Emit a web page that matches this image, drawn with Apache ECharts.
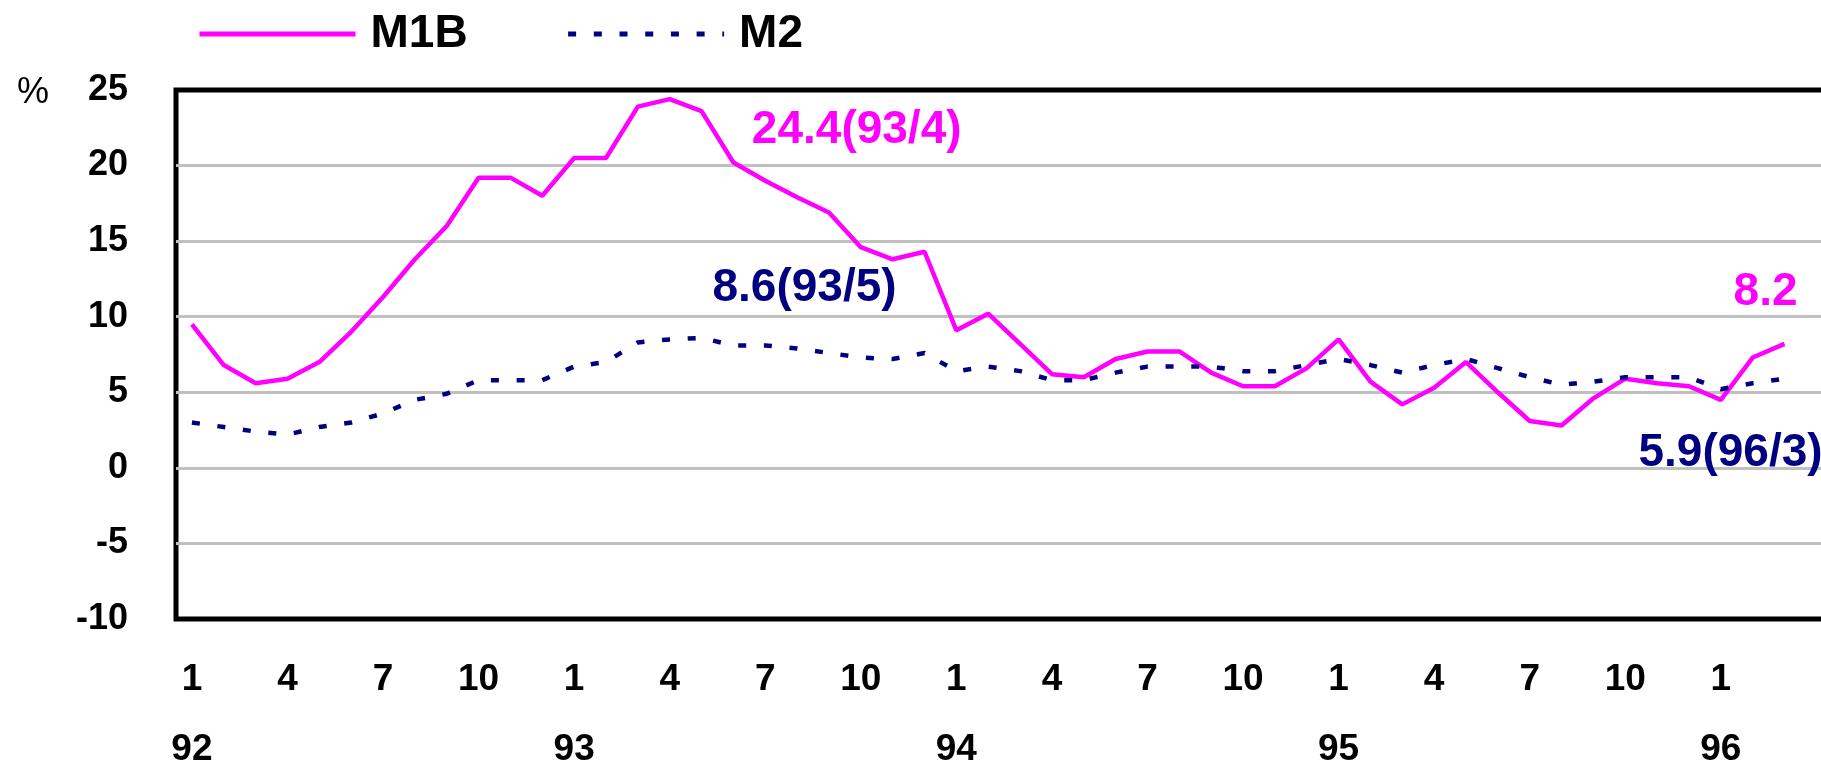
<!DOCTYPE html>
<html><head><meta charset="utf-8">
<script src="https://cdn.jsdelivr.net/npm/echarts@6/dist/echarts.min.js"></script>
<style>html,body{margin:0;padding:0;background:#fff}#c{width:1821px;height:766px}</style>
</head><body><div id="c"></div>
<script>
const months = ['92/1','92/2','92/3','92/4','92/5','92/6','92/7','92/8','92/9','92/10','92/11','92/12',
  '93/1','93/2','93/3','93/4','93/5','93/6','93/7','93/8','93/9','93/10','93/11','93/12',
  '94/1','94/2','94/3','94/4','94/5','94/6','94/7','94/8','94/9','94/10','94/11','94/12',
  '95/1','95/2','95/3','95/4','95/5','95/6','95/7','95/8','95/9','95/10','95/11','95/12',
  '96/1','96/2','96/3'];
const axisExtraMonths = ['96/4','96/5','96/6'];
const m1b = [9.5,6.8,5.6,5.9,7.0,9.0,11.3,13.8,16.0,19.2,19.2,18.0,
  20.5,20.5,23.9,24.4,23.6,20.2,19.0,17.9,16.9,14.6,13.8,14.3,
  9.1,10.2,8.2,6.2,6.0,7.2,7.7,7.7,6.3,5.4,5.4,6.6,
  8.5,5.7,4.2,5.3,7.0,5.0,3.1,2.8,4.6,5.9,5.6,5.4,
  4.5,7.3,8.2];
const m2 = [3.0,2.7,2.4,2.2,2.7,3.0,3.6,4.5,4.9,5.8,5.8,5.8,
  6.7,7.0,8.3,8.5,8.6,8.1,8.1,7.9,7.6,7.3,7.2,7.6,
  6.4,6.7,6.4,5.8,5.8,6.3,6.7,6.7,6.7,6.4,6.4,6.8,
  7.2,6.8,6.3,6.8,7.2,6.6,6.0,5.5,5.7,6.0,6.0,6.0,
  5.2,5.6,5.9];
const yTicks = {min:-10, max:25, interval:5};
const seriesNames = ['M1B','M2'];
const annotations = [
  {series:0, idx:15, text:'24.4(93/4)', offset:[187,31]},
  {series:0, idx:50, text:'8.2', offset:[-19,-52]},
  {series:1, idx:16, text:'8.6(93/5)', offset:[103,-50]},
  {series:1, idx:50, text:'5.9(96/3)', offset:[-54,75]}
];

const FONT = '"Liberation Sans", Arial, sans-serif';
const colors = ['#ff00ff','#000080'];
const values = [m1b, m2];
const cats = months.concat(axisExtraMonths);
const nLines = (yTicks.max - yTicks.min) / yTicks.interval + 1;
const splitColors = [];
for (let k = 0; k < nLines; k++) splitColors.push(k === 0 || k === nLines - 1 ? 'rgba(0,0,0,0)' : '#c0c0c0');

function marks(s){
  return annotations.filter(a=>a.series===s).map(a=>({
    coord:[months[a.idx], values[s][a.idx]],
    symbolSize:0,
    label:{show:true, position:'inside', offset:a.offset, formatter:a.text,
      color:colors[s], fontSize:46, fontWeight:'bold', fontFamily:FONT}
  }));
}

const chart = echarts.init(document.getElementById('c'));
chart.setOption({
  animation:false,
  backgroundColor:'#fff',
  grid:{left:176, top:90, width:1720, height:529, outerBoundsMode:'none', containLabel:false,
    show:true, borderColor:'#000', borderWidth:5, backgroundColor:'transparent'},
  legend:{
    left:192, top:6, itemWidth:156, itemHeight:14, itemGap:98,
    data:seriesNames,
    itemStyle:{opacity:0},
    lineStyle:{width:5},
    textStyle:{fontSize:46, fontWeight:'bold', color:'#000', fontFamily:FONT, padding:[0,0,0,10]}
  },
  xAxis:{
    type:'category', data:cats, boundaryGap:true,
    axisLine:{show:false}, axisTick:{show:false}, splitLine:{show:false},
    axisLabel:{
      interval:2, margin:26, lineHeight:70,
      fontSize:37, fontWeight:'bold', color:'#000', fontFamily:FONT,
      formatter:function(v, i){
        if(i >= months.length) return '';
        const p = v.split('/');
        return p[1]==='1' ? p[1]+'\n'+p[0] : p[1];
      }
    }
  },
  yAxis:{
    type:'value', min:yTicks.min, max:yTicks.max, interval:yTicks.interval,
    name:'%', nameLocation:'end', nameGap:-3,
    nameTextStyle:{fontSize:36, color:'#000', fontFamily:FONT, align:'right', verticalAlign:'middle', padding:[0,127,0,0]},
    axisLine:{show:false}, axisTick:{show:false},
    splitLine:{show:true, lineStyle:{color:splitColors, width:3}},
    axisLabel:{margin:48, fontSize:36, fontWeight:'bold', color:'#000', fontFamily:FONT}
  },
  series:[
    {name:seriesNames[0], type:'line', data:m1b, symbol:'none', color:colors[0],
     lineStyle:{color:colors[0], width:4.5}, markPoint:{symbol:'circle', data:marks(0)}},
    {name:seriesNames[1], type:'line', data:m2, symbol:'none', color:colors[1],
     lineStyle:{color:colors[1], width:4.5, type:[8,17.7]}, markPoint:{symbol:'circle', data:marks(1)}}
  ]
});
</script></body></html>
